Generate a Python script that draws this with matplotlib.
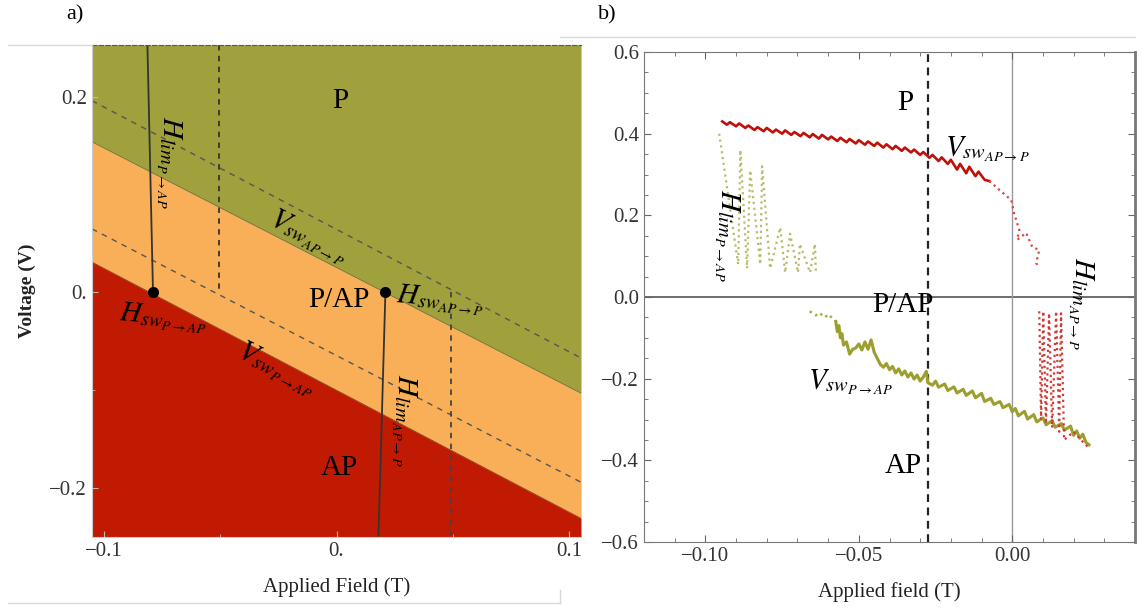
import matplotlib
matplotlib.use("Agg")
import matplotlib.pyplot as plt
from matplotlib.lines import Line2D
from matplotlib.ticker import MultipleLocator

plt.rcParams['font.family'] = 'serif'
plt.rcParams['font.serif'] = ['Liberation Serif', 'DejaVu Serif']
plt.rcParams['mathtext.fontset'] = 'stix'

# ---- panel a) phase diagram boundaries (end points at the frame edges)
field_a = [-0.105, 0.105]
v_sw_ap_p = [0.154, -0.103]     # olive / orange boundary
v_sw_p_ap = [0.031, -0.231]     # orange / red boundary
v_dash_hi = [0.196, -0.067]
v_dash_lo = [0.065, -0.194]
v_top, v_bot = 0.253, -0.25

hlim_p_ap_x = [-0.0812, -0.0788]
hlim_p_ap_v = [v_top, 0.0]
hlim_ap_p_x = [0.021, 0.018]
hlim_ap_p_v = [0.0, v_bot]
hdash_left = -0.0505
hdash_right = 0.049
sw_points_x = [-0.0788, 0.021]
sw_points_v = [0.0, 0.0]

# ---- panel b) measured switching
red_x = [-0.0945, -0.093, -0.092, -0.090, -0.089, -0.087, -0.086, -0.084, -0.083, -0.081,
         -0.080, -0.078, -0.077, -0.075, -0.074, -0.072, -0.071, -0.069, -0.068, -0.066,
         -0.065, -0.063, -0.062, -0.060, -0.059, -0.057, -0.056, -0.054, -0.053, -0.051,
         -0.050, -0.048, -0.047, -0.045, -0.044, -0.042, -0.041, -0.039, -0.038, -0.036,
         -0.035, -0.033, -0.032, -0.030, -0.029, -0.027, -0.026, -0.024, -0.023, -0.021,
         -0.020, -0.018, -0.017, -0.015, -0.014, -0.012, -0.011, -0.009, -0.0075]
red_v = [0.430, 0.422, 0.428, 0.418, 0.425, 0.414, 0.420, 0.409, 0.416, 0.406,
         0.414, 0.403, 0.410, 0.400, 0.408, 0.397, 0.404, 0.394, 0.402, 0.391,
         0.399, 0.388, 0.397, 0.386, 0.393, 0.382, 0.390, 0.379, 0.387, 0.376,
         0.384, 0.373, 0.381, 0.370, 0.378, 0.366, 0.374, 0.362, 0.370, 0.358,
         0.366, 0.354, 0.361, 0.348, 0.355, 0.341, 0.348, 0.333, 0.342, 0.326,
         0.336, 0.312, 0.326, 0.303, 0.319, 0.296, 0.307, 0.287, 0.284]
red_tail_x = [-0.0075, -0.0003, 0.0006, 0.0023, 0.0016, 0.0045, 0.0065, 0.0088, 0.0078, 0.0088]
red_tail_v = [0.284, 0.237, 0.205, 0.164, 0.140, 0.157, 0.123, 0.115, 0.083, 0.073]

olive_x = [-0.0575, -0.057, -0.0565, -0.056, -0.0555, -0.055, -0.054, -0.053, -0.052, -0.051,
           -0.050, -0.049, -0.048, -0.047, -0.046, -0.045, -0.044, -0.043, -0.042, -0.041,
           -0.040, -0.039, -0.038, -0.037, -0.036, -0.035, -0.034, -0.033, -0.032, -0.031,
           -0.030, -0.029, -0.028, -0.0275, -0.026, -0.025, -0.024, -0.022, -0.021, -0.019,
           -0.018, -0.016, -0.015, -0.013, -0.012, -0.010, -0.009, -0.007, -0.006, -0.004,
           -0.003, -0.001, 0.000, 0.001, 0.002, 0.004, 0.005, 0.007, 0.008, 0.010,
           0.011, 0.013, 0.014, 0.016, 0.017, 0.019, 0.020, 0.021, 0.022, 0.023,
           0.024, 0.025]
olive_v = [-0.060, -0.085, -0.070, -0.100, -0.090, -0.118, -0.110, -0.140, -0.128, -0.125,
           -0.115, -0.130, -0.110, -0.128, -0.105, -0.135, -0.150, -0.165, -0.172, -0.163,
           -0.178, -0.170, -0.186, -0.176, -0.191, -0.181, -0.196, -0.186, -0.201, -0.191,
           -0.206, -0.196, -0.182, -0.210, -0.216, -0.206, -0.221, -0.213, -0.229, -0.220,
           -0.235, -0.226, -0.241, -0.230, -0.247, -0.236, -0.256, -0.248, -0.263, -0.256,
           -0.271, -0.263, -0.281, -0.273, -0.291, -0.280, -0.299, -0.288, -0.306, -0.296,
           -0.313, -0.303, -0.319, -0.310, -0.326, -0.316, -0.339, -0.328, -0.346, -0.336,
           -0.356, -0.362]
olive_head_x = [-0.066, -0.064, -0.063, -0.061, -0.060, -0.0575]
olive_head_v = [-0.035, -0.045, -0.038, -0.050, -0.042, -0.060]

hlim_pap_x = [-0.0955, -0.0893, -0.0886, -0.0864, -0.0854, -0.0821, -0.0815, -0.0789,
              -0.0756, -0.0740, -0.0724, -0.0698, -0.0692, -0.0659, -0.0643, -0.0640]
hlim_pap_v = [0.400, 0.080, 0.360, 0.070, 0.310, 0.080, 0.320, 0.070,
              0.170, 0.060, 0.155, 0.060, 0.130, 0.060, 0.130, 0.060]

hlim_app_x = [0.0088, 0.0094, 0.0101, 0.0110, 0.0120, 0.0130, 0.0143, 0.0153, 0.0159,
              0.0169, 0.0200, 0.0224, 0.0250]
hlim_app_v = [-0.035, -0.300, -0.035, -0.310, -0.040, -0.320, -0.035, -0.330, -0.040,
              -0.350, -0.330, -0.350, -0.370]
dash_b = -0.0273

OLIVE = '#a0a03c'
ORANGE = '#f8af58'
RED = '#c01a02'
LAB = 21
MATH = 21

fig = plt.figure(figsize=(11.44, 6.14), dpi=100)

# screenshot frame lines
for xs, ys in [([8/1144, 92/1144], [1-45/614, 1-45/614]),
               ([8/1144, 560/1144], [1-603/614, 1-603/614]),
               ([560/1144, 1135/1144], [1-37/614, 1-37/614]),
               ([560/1144, 560/1144], [1-603/614, 1-590/614])]:
    fig.add_artist(Line2D(xs, ys, color='#d8d8d8', lw=1.0))

# ---------------- panel a
ax = fig.add_axes([92/1144, 1-537/614, 489/1144, 492/614])
ax.fill_between(field_a, v_sw_ap_p, [v_top, v_top], color=OLIVE, lw=0)
ax.fill_between(field_a, v_sw_p_ap, v_sw_ap_p, color=ORANGE, lw=0)
ax.fill_between(field_a, [v_bot, v_bot], v_sw_p_ap, color=RED, lw=0)
ax.plot(field_a, v_sw_ap_p, color='#6f6f40', lw=0.6)
ax.plot(field_a, v_sw_p_ap, color='#8a3a10', lw=0.6)
ax.plot(field_a, v_dash_hi, color='#555555', lw=1.0, dashes=(4, 4))
ax.plot(field_a, v_dash_lo, color='#555555', lw=1.0, dashes=(4, 4))
ax.plot(hlim_p_ap_x, hlim_p_ap_v, color='#333333', lw=1.3)
ax.plot(hlim_ap_p_x, hlim_ap_p_v, color='#333333', lw=1.3)
ax.plot([hdash_left, hdash_left], [v_top, 0.0], color='#333333', lw=1.3, dashes=(3, 3))
ax.plot([hdash_right, hdash_right], [0.0, v_bot], color='#444444', lw=1.3, dashes=(3, 3))
ax.plot(sw_points_x, sw_points_v, 'o', color='black', ms=7)
ax.set_xlim(field_a)
ax.set_ylim(v_bot, v_top)
ax.set_xticks([-0.1, 0.0, 0.1], ['\u22120.1', '0.', '0.1'])
ax.set_yticks([-0.2, 0.0, 0.2], ['\u22120.2', '0.', '0.2'])
ax.xaxis.set_minor_locator(MultipleLocator(0.05))
ax.yaxis.set_minor_locator(MultipleLocator(0.1))
ax.tick_params(which='both', direction='in', color='#bbbbbb', labelsize=15,
               labelcolor='#333333', top=False, right=False)
ax.tick_params(which='major', length=4)
ax.tick_params(which='minor', length=2)
ax.spines['right'].set_visible(False)
ax.spines['top'].set_linestyle((0, (4, 2)))
ax.spines['top'].set_color('#555555')
for s in ('left', 'bottom'):
    ax.spines[s].set_color('#cccccc')
ax.set_xlabel('Applied Field (T)', fontsize=15, color='#222222', labelpad=12)
ax.set_ylabel('Voltage (V)', fontsize=14, color='#222222', labelpad=10, fontweight='bold')

ax.text(0.0017, 0.196, 'P', fontsize=LAB, ha='center', va='center')
ax.text(0.001, -0.008, 'P/AP', fontsize=LAB, ha='center', va='center')
ax.text(0.0013, -0.179, 'AP', fontsize=LAB, ha='center', va='center')
ax.text(-0.072, 0.133, r'$H_{lim_{P\rightarrow AP}}$', fontsize=MATH, rotation=270,
        ha='center', va='center')
ax.text(-0.012, 0.057, r'$V_{sw_{AP\rightarrow P}}$', fontsize=MATH, rotation=-27,
        ha='center', va='center', rotation_mode='anchor')
ax.text(0.0255, -0.004, r'$H_{sw_{AP\rightarrow P}}$', fontsize=MATH, rotation=-5,
        ha='left', va='center', rotation_mode='anchor')
ax.text(-0.0934, -0.022, r'$H_{sw_{P\rightarrow AP}}$', fontsize=MATH, rotation=-5,
        ha='left', va='center', rotation_mode='anchor')
ax.text(-0.0257, -0.078, r'$V_{sw_{P\rightarrow AP}}$', fontsize=MATH, rotation=-27,
        ha='center', va='center', rotation_mode='anchor')
ax.text(0.029, -0.131, r'$H_{lim_{AP\rightarrow P}}$', fontsize=MATH, rotation=270,
        ha='center', va='center')

# ---------------- panel b
bx = fig.add_axes([644/1144, 1-542/614, 491/1144, 490/614])
bx.axhline(0, color='#555555', lw=1.2, zorder=1)
bx.axvline(0, color='#999999', lw=1.0, zorder=1)
bx.axvline(dash_b, color='#222222', lw=1.6, dashes=(3.5, 2.5), zorder=1)
bx.plot(hlim_pap_x, hlim_pap_v, color='#b9bc6a', lw=1.6, ls=':')
bx.plot(olive_head_x, olive_head_v, color='#a8ab4a', lw=1.8, ls=':')
bx.plot(olive_x, olive_v, color='#9c9f2e', lw=2.2)
bx.plot(red_x, red_v, color='#c0100a', lw=1.9)
bx.plot(red_tail_x, red_tail_v, color='#d84a40', lw=1.6, ls=':')
bx.plot(hlim_app_x, hlim_app_v, color='#d03a35', lw=1.6, ls=':')
bx.set_xlim(-0.12, 0.04)
bx.set_ylim(-0.6, 0.6)
bx.set_xticks([-0.10, -0.05, 0.00], ['\u22120.10', '\u22120.05', '0.00'])
bx.set_yticks([-0.6, -0.4, -0.2, 0.0, 0.2, 0.4, 0.6],
              ['\u22120.6', '\u22120.4', '\u22120.2', '0.0', '0.2', '0.4', '0.6'])
bx.xaxis.set_minor_locator(MultipleLocator(0.01))
bx.yaxis.set_minor_locator(MultipleLocator(0.05))
bx.tick_params(which='both', direction='in', top=True, right=True, color='#666666',
               labelsize=15, labelcolor='#333333')
bx.tick_params(which='major', length=5)
bx.tick_params(which='minor', length=3)
for s in bx.spines.values():
    s.set_color('#777777')
bx.spines['right'].set_linewidth(2.0)
bx.set_xlabel('Applied field (T)', fontsize=15, color='#222222', labelpad=12)

bx.text(-0.035, 0.475, 'P', fontsize=LAB, ha='center', va='center')
bx.text(-0.0357, -0.02, 'P/AP', fontsize=LAB, ha='center', va='center')
bx.text(-0.0354, -0.414, 'AP', fontsize=LAB, ha='center', va='center')
bx.text(-0.0218, 0.348, r'$V_{sw_{AP\rightarrow P}}$', fontsize=MATH, ha='left', va='baseline')
bx.text(-0.0666, -0.223, r'$V_{sw_{P\rightarrow AP}}$', fontsize=MATH, ha='left', va='baseline')
bx.text(-0.0929, 0.152, r'$H_{lim_{P\rightarrow AP}}$', fontsize=MATH, rotation=270,
        ha='center', va='center')
bx.text(0.0224, -0.015, r'$H_{lim_{AP\rightarrow P}}$', fontsize=MATH, rotation=270,
        ha='center', va='center')

fig.text(75/1144, 1-15/614, 'a)', fontsize=16, ha='center', va='center')
fig.text(607/1144, 1-15/614, 'b)', fontsize=16, ha='center', va='center')

fig.savefig('out.png', dpi=100)
